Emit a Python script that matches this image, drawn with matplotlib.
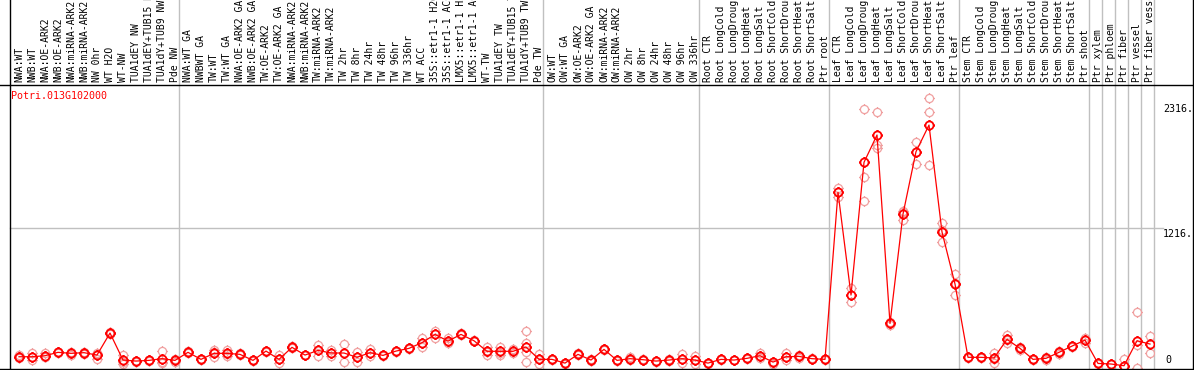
from __future__ import annotations

import pathlib

import matplotlib

matplotlib.use("Agg")

import matplotlib.pyplot as mp
import numpy as np
from matplotlib.lines import Line2D
from matplotlib.path import Path
from matplotlib.transforms import blended_transform_factory

# {{{ data

GENE = "Potri.013G102000"

labels_nw = [
    "NWA:WT", "NWB:WT", "NWA:OE-ARK2", "NWB:OE-ARK2", "NWA:miRNA-ARK2",
    "NWB:miRNA-ARK2", "NW 0hr", "WT H2O", "WT-NW", "TUA1dEY NW",
    "TUA1dEY+TUB15 NW", "TUA1dY+TUB9 NW", "Pde NW",
]
labels_tw = [
    "NWA:WT GA", "NWBWT GA", "TW:WT", "TW:WT GA", "NWA:OE-ARK2 GA",
    "NWB:OE-ARK2 GA", "TW:OE-ARK2", "TW:OE-ARK2 GA", "NWA:miRNA-ARK2",
    "NWB:miRNA-ARK2", "TW:miRNA-ARK2", "TW:miRNA-ARK2", "TW 2hr", "TW 8hr",
    "TW 24hr", "TW 48hr", "TW 96hr", "TW 336hr", "WT ACC",
    "35S::etr1-1 H2O", "35S::etr1-1 ACC", "LMX5::etr1-1 H2O",
    "LMX5::etr1-1 ACC", "WT-TW", "TUA1dEY TW", "TUA1dEY+TUB15 TW",
    "TUA1dY+TUB9 TW", "Pde TW",
]
labels_ow = [
    "OW:WT", "OW:WT GA", "OW:OE-ARK2", "OW:OE-ARK2 GA", "OW:miRNA-ARK2",
    "OW:miRNA-ARK2", "OW 2hr", "OW 8hr", "OW 24hr", "OW 48hr", "OW 96hr",
    "OW 336hr",
]
stress = [
    "CTR", "LongCold", "LongDrought", "LongHeat", "LongSalt", "ShortCold",
    "ShortDrought", "ShortHeat", "ShortSalt",
]
labels_root = [f"Root {s}" for s in stress] + ["Ptr root"]
labels_leaf = [f"Leaf {s}" for s in stress] + ["Ptr leaf"]
labels_stem = [f"Stem {s}" for s in stress] + ["Ptr shoot"]
labels_ptr = ["Ptr xylem", "Ptr phloem", "Ptr fiber", "Ptr vessel", "Ptr fiber vessel"]

groups = [labels_nw, labels_tw, labels_ow, labels_root, labels_leaf, labels_stem]
groups += [[lab] for lab in labels_ptr]

means_nw = [82, 82, 91, 121, 112, 118, 97, 291, 53, 44, 50, 65, 50]
means_tw = [
    121, 59, 112, 112, 103, 50, 132, 59, 165, 97, 138, 115, 115, 77, 118,
    94, 132, 156, 206, 279, 220, 279, 223, 130, 130, 130, 168, 59,
]
means_ow = [59, 26, 103, 53, 147, 50, 65, 56, 44, 53, 65, 53]
means_root = [26, 59, 53, 68, 91, 35, 82, 85, 65, 59]
means_leaf = [1532, 626, 1796, 2037, 376, 1340, 1890, 2125, 1182, 723]
means_stem = [77, 77, 71, 235, 156, 59, 68, 121, 176, 229]
means_ptr = [23, 18, 3, 223, 194]

reps_nw = [
    [70, 82, 94], [118, 77, 52], [112, 82, 80], [128, 121, 115],
    [125, 112, 100], [125, 118, 110], [118, 110, 62], [300, 291, 282],
    [97, 40, 22], [48, 44, 40], [55, 50, 45], [135, 35, 25], [65, 50, 35],
]
reps_tw = [
    [130, 121, 112], [65, 59, 53], [138, 120, 77], [138, 110, 88],
    [112, 103, 94], [55, 50, 45], [136, 132, 128], [94, 59, 23],
    [175, 165, 155], [100, 97, 94], [185, 138, 91], [141, 115, 88],
    [191, 115, 40], [121, 77, 33], [150, 118, 88], [100, 94, 88],
    [136, 132, 128], [160, 156, 152], [250, 200, 168], [311, 279, 244],
    [250, 215, 200], [290, 279, 270], [228, 223, 218], [170, 120, 100],
    [170, 118, 100], [150, 130, 112], [311, 200, 120, 40], [103, 59, 20],
]
reps_ow = [
    [62, 59, 56], [30, 26, 22], [112, 103, 94], [58, 53, 48],
    [150, 147, 144], [55, 50, 45], [80, 65, 50], [60, 56, 52],
    [48, 44, 40], [60, 53, 46], [106, 65, 25], [91, 53, 15],
]
reps_root = [
    [30, 26, 22], [63, 59, 55], [57, 53, 49], [72, 68, 64], [112, 91, 70],
    [40, 35, 15], [112, 82, 55], [97, 85, 73], [69, 65, 61], [63, 59, 55],
]
reps_leaf = [
    [1572, 1532, 1493], [685, 626, 567], [2264, 1664, 1455],
    [2237, 1949, 1920], [390, 376, 362], [1361, 1370, 1288],
    [1973, 1890, 1779], [2361, 2237, 1773], [1258, 1197, 1091],
    [809, 735, 626],
]
reps_stem = [
    [80, 77, 74], [84, 77, 70], [118, 66, 29], [273, 229, 203],
    [170, 156, 145], [63, 59, 55], [80, 68, 56], [135, 121, 108],
    [180, 176, 172], [250, 229, 200],
]
reps_ptr = [[27, 23, 19], [18, 18, 18], [59, 0, 0], [479, 185, -20], [265, 194, 118]]

yticks = [0, 1216, 2316]

# }}}

# {{{ layout (pixels)

W, H = 1194, 370
LEFT, RIGHT, TOP, BOTTOM = 10, 1154, 85, 369
CELL = 13
OFFSET = 9 / CELL  # points sit to the right of the cell centre
YMIN, YMAX = -26, 2478

RED = "#ff0000"
PINK = "#f0a0a0"
GRAY = "#c0c0c0"
MONO = "DejaVu Sans Mono"

# }}}


def ringed_marker(stub: float = 1.35) -> Path:
    verts = [(0, 1), (0, stub), (0, -1), (0, -stub),
             (1, 0), (stub, 0), (-1, 0), (-stub, 0)]
    codes = [Path.MOVETO, Path.LINETO] * 4
    return Path.make_compound_path(Path.unit_circle(), Path(verts, codes))


def plot_expression(outfile: pathlib.Path) -> None:
    labels = [lab for g in groups for lab in g]
    means = np.array(means_nw + means_tw + means_ow + means_root
                     + means_leaf + means_stem + means_ptr, dtype=float)
    reps = reps_nw + reps_tw + reps_ow + reps_root + reps_leaf + reps_stem + reps_ptr
    x = np.arange(len(labels))

    fig = mp.figure(figsize=(W / 100, H / 100), dpi=100)
    ax = fig.add_axes([LEFT / W, 1 - BOTTOM / H, (RIGHT - LEFT) / W, (BOTTOM - TOP) / H])
    ax.set_xlim(-OFFSET, len(labels) - OFFSET)
    ax.set_ylim(YMIN, YMAX)
    ax.set_axis_off()

    def fx(px):
        return px / W

    def fy(py):
        return 1 - py / H

    # frame
    for xs, ys in [((LEFT, LEFT), (0, H)), ((W - 1, W - 1), (0, H)),
                   ((0, W), (TOP, TOP)), ((0, W), (BOTTOM, BOTTOM))]:
        fig.add_artist(Line2D([fx(v) for v in xs], [fy(v) for v in ys],
                              color="black", lw=1.0))

    # group separators run through the header
    ytop = BOTTOM / (BOTTOM - TOP)
    for b in np.cumsum([len(g) for g in groups]):
        ax.axvline(b - OFFSET, ymin=0, ymax=ytop, color=GRAY, lw=1.0, clip_on=False)

    ax.axhline(yticks[1], xmin=0, xmax=(1163 - LEFT) / (RIGHT - LEFT),
               color=GRAY, lw=1.0, clip_on=False)

    # header labels (long ones run off the top, as in the original)
    trans = blended_transform_factory(ax.transData, fig.transFigure)
    for i, lab in enumerate(labels):
        ax.text(i, fy(82), lab, transform=trans, rotation=90, ha="center",
                va="bottom", fontsize=7, family=MONO, clip_on=False)

    marker = ringed_marker()
    for i, r in enumerate(reps):
        ax.plot([i] * len(r), r, ls="none", marker=marker, ms=7.9, mfc="none",
                mec=PINK, mew=0.9)
    ax.plot(x, means, color=RED, lw=0.9, marker=marker, ms=7.9, mfc="none",
            mec=RED, mew=1.3)

    fig.text(fx(LEFT + 1), fy(91), GENE, color=RED, fontsize=7.2, family=MONO,
             ha="left", va="top")

    # y labels on the right
    for t in yticks:
        label = "0" if t == 0 else f"{t}."
        va = "bottom" if t == 0 else "top"
        ypx = fy(BOTTOM) + (t - YMIN) / (YMAX - YMIN) * (BOTTOM - TOP) / H
        fig.text(fx(1163 if t else 1165), ypx + (0.004 if t == 0 else -0.002),
                 label, fontsize=7.2, family=MONO, ha="left", va=va)

    fig.savefig(outfile, dpi=100)
    mp.close(fig)


if __name__ == "__main__":
    plot_expression(pathlib.Path("out.png"))
